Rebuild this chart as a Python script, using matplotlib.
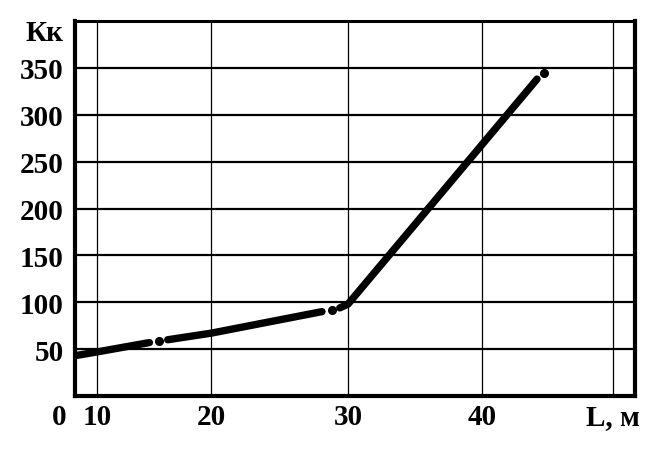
import numpy as np
import matplotlib
matplotlib.use("Agg")
import matplotlib.pyplot as plt

plt.rcParams['font.family'] = ['Liberation Serif', 'DejaVu Serif']

# curve pieces (L, m -> Kk), drawn with small gaps as in the original sketch
seg1_x = [0, 10, 14.6]
seg1_y = [43, 47, 57]
seg2_x = [16.2, 20, 28.1]
seg2_y = [60, 67, 90]
seg3_x = [29.4, 30, 44.2]
seg3_y = [94, 98, 338]
dots_x = [15.4, 28.8, 44.7]
dots_y = [59, 92, 345]

x_ticks = [10, 20, 30, 40, 50]
x_labels = ['10', '20', '30', '40', 'L, м']
y_ticks = [50, 100, 150, 200, 250, 300, 350]
y_labels = ['50', '100', '150', '200', '250', '300', '350']

# hand drawn axis: 0..10 is squeezed (axis break), later steps uneven
brk_data = [-10, 0, 10, 20, 30, 40, 50, 60]
brk_pos = [53, 75, 97, 211, 348, 482, 613, 744]

def fwd(x):
    return np.interp(x, brk_data, brk_pos)

def inv(p):
    return np.interp(p, brk_pos, brk_data)

fig = plt.figure(figsize=(6.66, 4.56), dpi=100)
ax = fig.add_axes([75 / 666, 59 / 456, 560 / 666, 375 / 456])
ax.set_xscale('function', functions=(fwd, inv))
ax.set_xlim(0, 51.68)
ax.set_ylim(0, 400)

for v in x_ticks:
    ax.axvline(v, color='black', lw=0.9, zorder=1)
for v in y_ticks:
    ax.axhline(v, color='black', lw=1.6, zorder=1)

for sx, sy in [(seg1_x, seg1_y), (seg2_x, seg2_y), (seg3_x, seg3_y)]:
    ax.plot(sx, sy, color='black', lw=5.3, solid_capstyle='round', zorder=3)
ax.plot(dots_x, dots_y, 'o', color='black', ms=5.5, zorder=3)

for side in ['left', 'bottom', 'right']:
    ax.spines[side].set_linewidth(3)
ax.spines['top'].set_linewidth(2.2)

ax.set_xticks(x_ticks)
ax.set_xticklabels(x_labels)
ax.set_yticks(y_ticks)
ax.set_yticklabels(y_labels)
ax.tick_params(length=0, labelsize=21)
ax.tick_params(axis='y', pad=8)
ax.tick_params(axis='x', pad=5)
for lab in ax.get_xticklabels() + ax.get_yticklabels():
    lab.set_fontweight('bold')

ax.text(-0.016, -0.018, '0', transform=ax.transAxes, ha='right', va='top',
        fontsize=21, fontweight='bold')
ax.text(-0.02, 0.97, 'Кк', transform=ax.transAxes, ha='right', va='center',
        fontsize=21, fontweight='bold')

fig.savefig('out.png', dpi=100)
